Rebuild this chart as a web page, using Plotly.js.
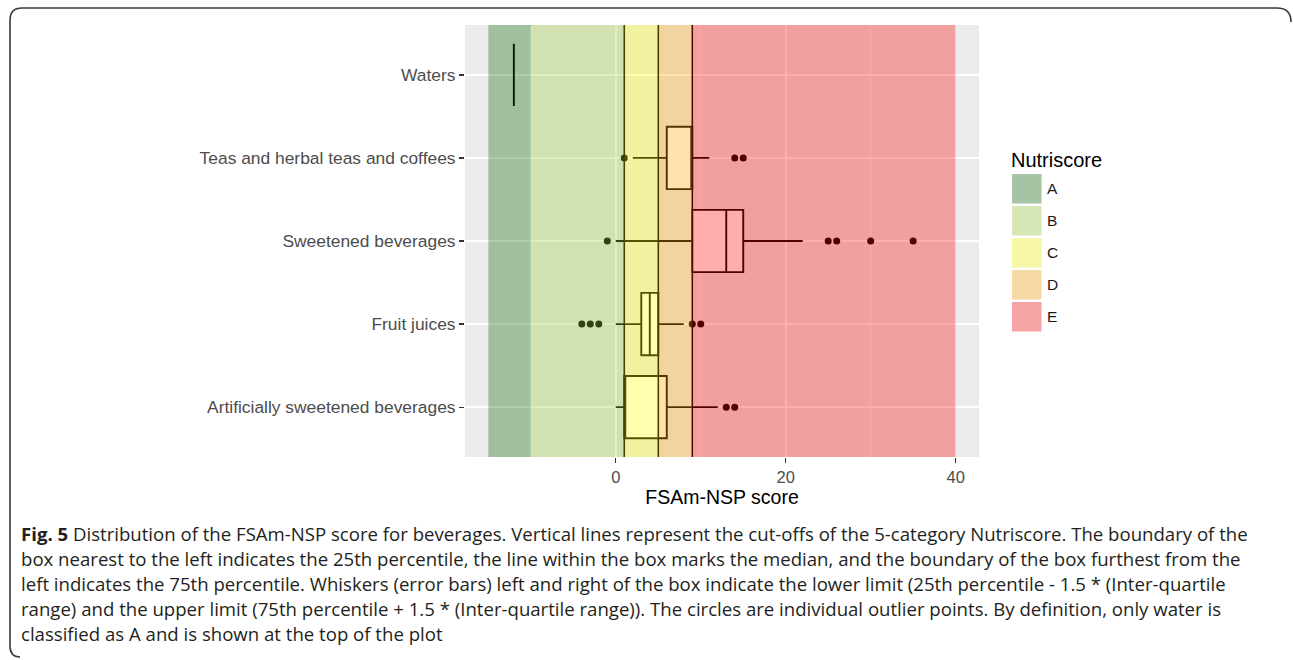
<!DOCTYPE html>
<html>
<head>
<meta charset="utf-8">
<script src="https://cdn.plot.ly/plotly-3.0.1.min.js"></script>
<style>
  html, body { margin: 0; padding: 0; background: #ffffff; }
  #chart { width: 1293px; height: 660px; }
</style>
</head>
<body>
<div id="chart"></div>
<script>
// ---------------- data ----------------
// categories (bottom to top)
const categories = [
  "Artificially sweetened beverages",
  "Fruit juices",
  "Sweetened beverages",
  "Teas and herbal teas and coffees",
  "Waters"
];
const q1Values      = [1, 3, 9, 6, -12];
const medianValues  = [1, 4, 13, 9, -12];
const q3Values      = [6, 5, 15, 9, -12];
const lowerWhisker  = [0, 0, 0, 2, -12];
const upperWhisker  = [12, 8, 22, 11, -12];

// outlier points
const outlierCategory = [
  "Artificially sweetened beverages", "Artificially sweetened beverages",
  "Fruit juices", "Fruit juices", "Fruit juices", "Fruit juices", "Fruit juices",
  "Sweetened beverages", "Sweetened beverages", "Sweetened beverages", "Sweetened beverages", "Sweetened beverages",
  "Teas and herbal teas and coffees", "Teas and herbal teas and coffees", "Teas and herbal teas and coffees"
];
const outlierScore = [
  13, 14,
  -4, -3, -2, 9, 10,
  -1, 25, 26, 30, 35,
  1, 14, 15
];

// Nutriscore bands
const nutriLabels = ["A", "B", "C", "D", "E"];
const bandStart   = [-15, -10, 1, 5, 9];
const bandEnd     = [-10, 1, 5, 9, 40];
const bandColors  = ["#006400", "#9ACD32", "#FFFF00", "#FFA500", "#FF0000"];
const cutoffs     = [1, 5, 9];

const xTickValues = [0, 20, 40];
const captionLines = [
  "<b>Fig. 5</b> Distribution of the FSAm-NSP score for beverages. Vertical lines represent the cut-offs of the 5-category Nutriscore. The boundary of the",
  "box nearest to the left indicates the 25th percentile, the line within the box marks the median, and the boundary of the box furthest from the",
  "left indicates the 75th percentile. Whiskers (error bars) left and right of the box indicate the lower limit (25th percentile - 1.5 * (Inter-quartile",
  "range) and the upper limit (75th percentile + 1.5 * (Inter-quartile range)). The circles are individual outlier points. By definition, only water is",
  "classified as A and is shown at the top of the plot"
];

// ---------------- layout helpers ----------------
const W = 1293, H = 660;
const M = { l: 465, r: 314, t: 25, b: 203 };
const PW = W - M.l - M.r, PH = H - M.t - M.b;
const px = v => (v - M.l) / PW;        // pixel x -> paper x
const py = v => (H - M.b - v) / PH;    // pixel y -> paper y
const bandAlpha = 0.32;

const traces = [
  {
    type: "box",
    orientation: "h",
    y: categories,
    q1: q1Values,
    median: medianValues,
    q3: q3Values,
    lowerfence: lowerWhisker,
    upperfence: upperWhisker,
    width: 0.75,
    whiskerwidth: 0,
    fillcolor: "#ffffff",
    line: { color: "#000000", width: 1.9 },
    boxpoints: false,
    hoverinfo: "skip",
    showlegend: false
  },
  {
    type: "scatter",
    mode: "markers",
    x: outlierScore,
    y: outlierCategory,
    marker: { color: "#000000", size: 7 },
    hoverinfo: "skip",
    showlegend: false
  }
];

const shapes = [];
// cut-off lines
cutoffs.forEach(c => shapes.push({
  type: "line", xref: "x", yref: "paper", x0: c, x1: c, y0: 0, y1: 1,
  line: { color: "#000000", width: 1.6 }, layer: "above"
}));
// translucent Nutriscore bands on top
nutriLabels.forEach((lab, i) => shapes.push({
  type: "rect", xref: "x", yref: "paper", x0: bandStart[i], x1: bandEnd[i], y0: 0, y1: 1,
  fillcolor: bandColors[i], opacity: bandAlpha, line: { width: 0 }, layer: "above"
}));
// legend keys
const keyX0 = 1012, keySize = 29.5, keyY0 = 174, keyStep = 32;
nutriLabels.forEach((lab, i) => {
  const y0 = keyY0 + i * keyStep;
  shapes.push({
    type: "rect", xref: "paper", yref: "paper",
    x0: px(keyX0), x1: px(keyX0 + keySize), y0: py(y0 + keySize), y1: py(y0),
    fillcolor: "#F2F2F2", line: { width: 0 }, layer: "above"
  });
  shapes.push({
    type: "rect", xref: "paper", yref: "paper",
    x0: px(keyX0), x1: px(keyX0 + keySize), y0: py(y0 + keySize), y1: py(y0),
    fillcolor: bandColors[i], opacity: bandAlpha, line: { width: 0 }, layer: "above"
  });
});
// figure frame (rounded, as in the source page)
shapes.push({
  type: "path", xref: "paper", yref: "paper",
  path: `M ${px(1291)},${py(22)} Q ${px(1291)},${py(8)} ${px(1277)},${py(8)} L ${px(22)},${py(8)} Q ${px(10)},${py(8)} ${px(10)},${py(20)} L ${px(10)},${py(646)} Q ${px(10)},${py(657)} ${px(20)},${py(657)}`,
  line: { color: "#3a3a3a", width: 1.6 }, layer: "above"
});

const annotations = [];
annotations.push({
  xref: "paper", yref: "paper", x: px(1009), y: py(160), xanchor: "left", yanchor: "middle",
  text: "Nutriscore", showarrow: false,
  font: { family: "Liberation Sans, Arial, sans-serif", size: 20, color: "#000000" }
});
nutriLabels.forEach((lab, i) => annotations.push({
  xref: "paper", yref: "paper", x: px(1045), y: py(keyY0 + i * keyStep + keySize / 2),
  xanchor: "left", yanchor: "middle", text: lab, showarrow: false,
  font: { family: "Liberation Sans, Arial, sans-serif", size: 15.5, color: "#1A1A1A" }
}));
captionLines.forEach((t, i) => annotations.push({
  xref: "paper", yref: "paper", x: px(19), y: py(533 + i * 25),
  xanchor: "left", yanchor: "middle", align: "left", text: t, showarrow: false,
  font: { family: "Open Sans, sans-serif", size: 18.6, color: "#231F20" }
}));

const layout = {
  width: W, height: H,
  margin: M,
  paper_bgcolor: "#ffffff",
  plot_bgcolor: "#EBEBEB",
  showlegend: false,
  font: { family: "Liberation Sans, Arial, sans-serif", color: "#4D4D4D" },
  xaxis: {
    range: [-17.75, 42.75],
    tickvals: xTickValues,
    ticktext: xTickValues.map(String),
    ticks: "outside", ticklen: 5, tickwidth: 1.3, tickcolor: "#333333",
    tickfont: { size: 16.5, color: "#4D4D4D" },
    showgrid: true, gridcolor: "#ffffff", gridwidth: 1.6,
    minor: { tickvals: [-10, 10, 30], showgrid: true, gridcolor: "#ffffff", gridwidth: 0.8, ticks: "" },
    zeroline: false, showline: false,
    title: { text: "FSAm-NSP score", font: { size: 19.5, color: "#000000" }, standoff: 4 },
    automargin: false,
    fixedrange: true
  },
  yaxis: {
    type: "category",
    categoryorder: "array",
    categoryarray: categories,
    range: [-0.6, 4.6],
    ticks: "outside", ticklen: 5, tickwidth: 1.3, tickcolor: "#333333",
    tickfont: { size: 17.4, color: "#4D4D4D" },
    showgrid: true, gridcolor: "#ffffff", gridwidth: 1.6,
    zeroline: false, showline: false,
    automargin: false,
    fixedrange: true
  },
  shapes: shapes,
  annotations: annotations
};

Plotly.newPlot("chart", traces, layout, { staticPlot: true, displayModeBar: false });
</script>
</body>
</html>
